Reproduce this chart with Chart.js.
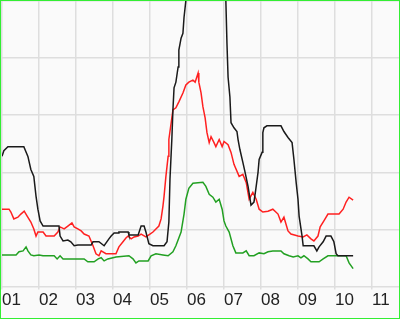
<!DOCTYPE html>
<html>
<head>
<meta charset="utf-8">
<script src="https://cdn.jsdelivr.net/npm/chart.js@4"></script>
<style>
  html, body { margin: 0; padding: 0; background: #fcfcfc; }
  #wrap {
    width: 400px; height: 319px; box-sizing: border-box;
    border: 1px solid #33ee33; background: #fafafa;
  }
  canvas { display: block; }
</style>
</head>
<body>
<div id="wrap"><canvas id="chart" width="398" height="317"></canvas></div>
<script>
// x values are decimal years (2001.00 = start of 2001), y values on a 0-100 scale
const blackYears = [2001.00, 2001.05, 2001.16, 2001.59, 2001.70, 2001.78, 2001.86, 2001.92, 2001.97, 2002.03,
  2002.11, 2002.54, 2002.57, 2002.65, 2002.78, 2002.86, 2002.95, 2003.05, 2003.41, 2003.46,
  2003.62, 2003.76, 2003.89, 2003.95, 2004.03, 2004.14, 2004.16, 2004.41, 2004.43, 2004.68,
  2004.76, 2004.84, 2004.89, 2004.97, 2005.08, 2005.38, 2005.46, 2005.51, 2005.54, 2005.59,
  2005.62, 2005.65, 2005.70, 2005.76, 2005.78, 2005.84, 2005.89, 2005.92, 2005.97, 2006.05,
  2006.24, 2006.51, 2006.78, 2006.97, 2007.05, 2007.08, 2007.11, 2007.16, 2007.19, 2007.27,
  2007.35, 2007.38, 2007.43, 2007.51, 2007.57, 2007.65, 2007.73, 2007.81, 2007.86, 2007.92,
  2007.95, 2008.03, 2008.05, 2008.08, 2008.16, 2008.54, 2008.62, 2008.73, 2008.84, 2008.89,
  2008.95, 2009.00, 2009.03, 2009.11, 2009.14, 2009.22, 2009.43, 2009.51, 2009.57, 2009.68,
  2009.76, 2009.89, 2009.97, 2010.03, 2010.08, 2010.49];
const blackValues = [45.6, 47.6, 49.0, 49.0, 45.6, 41.0, 38.6, 31.6, 27.1, 23.0,
  21.2, 21.2, 17.7, 16.0, 16.3, 15.7, 14.3, 14.6, 14.6, 15.7,
  15.7, 14.3, 16.7, 17.7, 18.8, 18.8, 19.1, 19.1, 18.1, 18.1,
  21.2, 21.2, 19.1, 15.0, 14.3, 14.3, 15.7, 22.6, 37.6, 51.5,
  61.9, 69.6, 71.6, 76.9, 82.8, 87.0, 88.7, 94.3, 100.2, 114,
  135, 138, 128, 110.6, 100.2, 85.2, 73.4, 66.4, 57.4, 55.6,
  54.3, 51.5, 48.0, 43.5, 40.0, 35.1, 28.5, 29.6, 34.1, 40.0,
  44.5, 47.0, 53.9, 55.6, 56.3, 56.3, 54.3, 52.2, 50.4, 44.5,
  36.5, 30.6, 24.7, 17.7, 14.3, 14.3, 14.3, 12.5, 13.9, 15.7,
  17.7, 17.7, 15.7, 11.5, 10.8, 10.8];

const redYears = [2001.00, 2001.19, 2001.24, 2001.32, 2001.43, 2001.51, 2001.60, 2001.68, 2001.78, 2001.86,
  2001.92, 2001.97, 2002.11, 2002.19, 2002.41, 2002.51, 2002.57, 2002.68, 2002.78, 2002.89,
  2002.95, 2003.05, 2003.14, 2003.22, 2003.35, 2003.46, 2003.54, 2003.62, 2003.68, 2003.81,
  2004.08, 2004.16, 2004.27, 2004.35, 2004.41, 2004.49, 2004.57, 2004.68, 2004.76, 2004.89,
  2004.97, 2005.08, 2005.16, 2005.24, 2005.30, 2005.35, 2005.38, 2005.43, 2005.49, 2005.51,
  2005.62, 2005.70, 2005.78, 2005.89, 2005.97, 2006.05, 2006.16, 2006.22, 2006.30, 2006.32,
  2006.38, 2006.43, 2006.49, 2006.54, 2006.60, 2006.65, 2006.73, 2006.78, 2006.87, 2006.95,
  2007.00, 2007.11, 2007.19, 2007.27, 2007.41, 2007.51, 2007.60, 2007.68, 2007.78, 2007.87,
  2007.95, 2008.05, 2008.19, 2008.32, 2008.46, 2008.54, 2008.62, 2008.73, 2008.81, 2009.00,
  2009.14, 2009.24, 2009.35, 2009.43, 2009.54, 2009.60, 2009.70, 2009.81, 2010.11, 2010.22,
  2010.30, 2010.38, 2010.49];
const redValues = [27.1, 27.1, 26.1, 23.7, 24.3, 25.4, 26.4, 24.7, 22.6, 20.2,
  17.7, 19.1, 19.1, 17.7, 17.7, 19.1, 20.9, 20.2, 21.2, 22.3,
  20.9, 20.2, 19.5, 18.4, 17.7, 14.3, 11.5, 10.8, 12.5, 11.5,
  11.5, 13.9, 15.7, 17.0, 17.7, 16.7, 17.4, 17.7, 18.4, 17.4,
  18.1, 19.1, 20.2, 21.2, 23.7, 28.2, 31.6, 38.6, 45.6, 51.5,
  61.9, 62.6, 64.7, 67.8, 70.6, 71.6, 72.3, 71.6, 74.8, 71.6,
  67.8, 63.0, 59.1, 53.9, 50.4, 52.5, 50.4, 49.0, 51.5, 49.0,
  50.8, 49.7, 47.0, 42.8, 38.6, 39.3, 36.5, 30.6, 33.0, 30.6,
  27.1, 26.1, 26.4, 27.1, 25.4, 22.6, 24.3, 19.5, 18.4, 17.7,
  17.4, 18.1, 16.7, 16.0, 17.7, 20.9, 23.0, 25.4, 25.4, 27.1,
  29.6, 31.3, 30.3];

const greenYears = [2001.00, 2001.38, 2001.46, 2001.57, 2001.65, 2001.70, 2001.78, 2001.86, 2002.00, 2002.11,
  2002.41, 2002.49, 2002.57, 2002.65, 2003.22, 2003.32, 2003.49, 2003.60, 2003.68, 2003.76,
  2003.86, 2004.08, 2004.43, 2004.54, 2004.62, 2004.70, 2004.95, 2005.03, 2005.16, 2005.35,
  2005.49, 2005.62, 2005.70, 2005.84, 2005.92, 2005.97, 2006.05, 2006.16, 2006.43, 2006.51,
  2006.60, 2006.70, 2006.78, 2006.87, 2006.95, 2007.00, 2007.05, 2007.14, 2007.24, 2007.32,
  2007.51, 2007.60, 2007.68, 2007.81, 2007.95, 2008.08, 2008.19, 2008.32, 2008.54, 2008.62,
  2008.76, 2008.87, 2009.00, 2009.08, 2009.16, 2009.27, 2009.35, 2009.57, 2009.68, 2009.81,
  2010.30, 2010.38, 2010.49];
const greenValues = [11.1, 11.1, 12.2, 12.5, 13.9, 12.5, 11.1, 10.8, 11.1, 10.8,
  10.8, 9.7, 10.8, 9.7, 9.7, 8.7, 8.7, 9.7, 10.1, 9.0,
  9.7, 10.4, 10.8, 9.7, 8.3, 9.0, 9.0, 10.8, 11.5, 11.1,
  10.8, 12.2, 14.3, 19.1, 25.4, 30.6, 34.4, 36.2, 36.5, 35.1,
  32.3, 31.3, 29.6, 30.6, 27.1, 23.0, 21.2, 19.1, 14.3, 11.8,
  11.8, 12.5, 10.8, 10.8, 11.8, 11.5, 12.2, 12.5, 12.5, 11.5,
  10.8, 10.4, 10.8, 10.1, 10.8, 9.7, 8.7, 8.7, 9.7, 10.8,
  10.8, 8.3, 6.3];

const xMin = 2001;
const xMax = 2011.73;

const toPoints = (xs, ys) => xs.map((x, i) => ({ x: x, y: ys[i] }));

const lineSet = (label, xs, ys, color) => ({
  label: label,
  data: toPoints(xs, ys),
  borderColor: color,
  borderWidth: 1.5,
  pointRadius: 0,
  tension: 0,
  fill: false,
});

new Chart(document.getElementById('chart'), {
  type: 'line',
  data: {
    datasets: [
      lineSet('black', blackYears, blackValues, '#1a1a1a'),
      lineSet('red', redYears, redValues, '#ff2020'),
      lineSet('green', greenYears, greenValues, '#22a022'),
    ],
  },
  options: {
    responsive: false,
    animation: false,
    layout: { padding: { top: 0, left: 0, right: 0, bottom: 6 } },
    plugins: { legend: { display: false }, tooltip: { enabled: false } },
    scales: {
      x: {
        type: 'linear',
        min: xMin,
        max: xMax,
        border: { display: false },
        grid: { color: '#dedede', lineWidth: 1.5, tickLength: 3 },
        ticks: {
          stepSize: 1,
          includeBounds: false,
          autoSkip: false,
          maxRotation: 0,
          align: 'start',
          padding: 1,
          color: '#222',
          font: { family: 'Liberation Sans', size: 17 },
          callback: (v) => String(Math.round(v) % 100).padStart(2, '0'),
        },
      },
      y: {
        min: 0,
        max: 100,
        border: { display: false },
        grid: { color: '#dedede', lineWidth: 1.5, drawTicks: false },
        ticks: { display: false, stepSize: 20 },
      },
    },
  },
});
</script>
</body>
</html>
